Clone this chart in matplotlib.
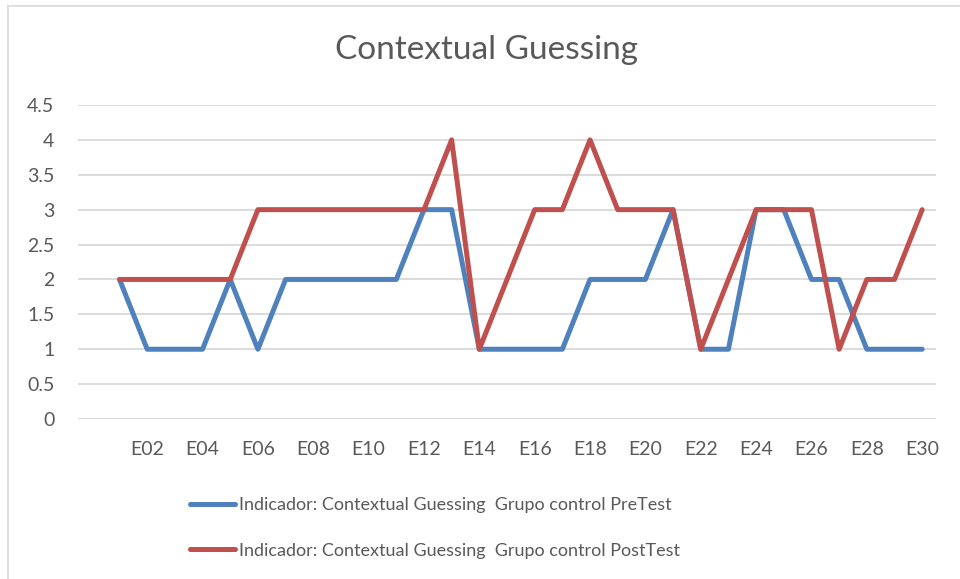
import matplotlib.pyplot as plt
import numpy as np
from matplotlib.lines import Line2D

plt.rcParams["font.family"] = ["Lato", "DejaVu Sans"]

# category axis: Excel left an empty first category before E01
students = [""] + [f"E{i:02d}" for i in range(1, 31)]
pretest = [2, 1, 1, 1, 2, 1, 2, 2, 2, 2, 2, 3, 3, 1, 1,
           1, 1, 2, 2, 2, 3, 1, 1, 3, 3, 2, 2, 1, 1, 1]
posttest = [2, 2, 2, 2, 2, 3, 3, 3, 3, 3, 3, 3, 4, 1, 2,
            3, 3, 4, 3, 3, 3, 1, 2, 3, 3, 3, 1, 2, 2, 3]
y_ticks = [0, 0.5, 1, 1.5, 2, 2.5, 3, 3.5, 4, 4.5]

label_pre = "Indicador: Contextual Guessing  Grupo control PreTest"
label_post = "Indicador: Contextual Guessing  Grupo control PostTest"

BLUE = "#4F81BD"
RED = "#C0504D"
GRID = "#D9D9D9"
TEXT = "#595959"


def main():
    fig = plt.figure(figsize=(9.6, 5.79), dpi=100)
    ax = fig.add_axes([0.08125, 0.2763, 0.89375, 0.5424])

    x_all = np.arange(len(students))
    x_data = x_all[1:]

    ax.plot(x_data, pretest, color=BLUE, lw=3.6, solid_joinstyle="round",
            solid_capstyle="round", zorder=3)
    ax.plot(x_data, posttest, color=RED, lw=3.6, solid_joinstyle="round",
            solid_capstyle="round", zorder=4)

    ax.set_xlim(-0.5, len(students) - 0.5)
    ax.set_ylim(0, 4.5)
    ax.set_yticks(y_ticks)
    ax.set_yticklabels([f"{v:g}" for v in y_ticks])
    ax.set_xticks(x_all[::2])
    ax.set_xticklabels(students[::2])

    ax.grid(axis="y", color=GRID, lw=1.3)
    ax.set_axisbelow(True)
    for s in ax.spines.values():
        s.set_visible(False)
    ax.tick_params(axis="both", length=0, colors=TEXT, labelsize=14)
    ax.tick_params(axis="x", pad=16)
    ax.tick_params(axis="y", pad=17)

    fig.text(0.507, 0.913, "Contextual Guessing", ha="center", va="center",
             fontsize=24, color=TEXT)

    handles = [Line2D([], [], color=BLUE, lw=3.6, solid_capstyle="round"),
               Line2D([], [], color=RED, lw=3.6, solid_capstyle="round")]
    fig.legend(handles, [label_pre, label_post], loc="upper left",
               bbox_to_anchor=(0.198, 0.141), frameon=False, fontsize=13,
               labelcolor=TEXT, handlelength=2.5, handletextpad=0.2,
               labelspacing=1.63, borderpad=0, borderaxespad=0)

    # chart area border (only top and left edges fall inside the crop)
    fig.add_artist(Line2D([8 / 960, 8 / 960], [0, 1 - 6 / 579],
                          transform=fig.transFigure, color="#D9D9D9", lw=1.2))
    fig.add_artist(Line2D([8 / 960, 1], [1 - 6 / 579, 1 - 6 / 579],
                          transform=fig.transFigure, color="#D9D9D9", lw=1.2))

    fig.savefig("out.png", dpi=100)
    plt.close(fig)


if __name__ == "__main__":
    main()
